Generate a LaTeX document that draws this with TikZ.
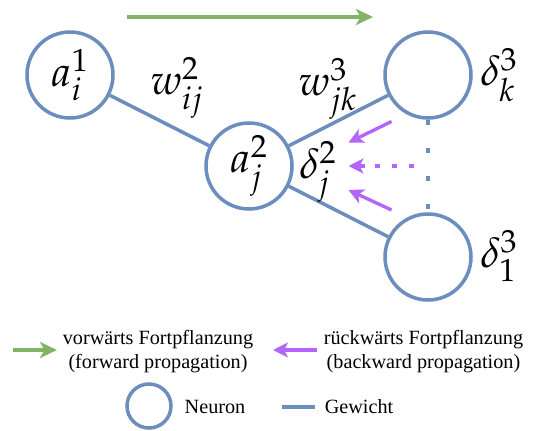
\documentclass[tikz,border=0pt]{standalone}
\usepackage{mathpazo}
\usepackage[no-math]{fontspec}
\setmainfont{Liberation Serif}
\usetikzlibrary{arrows.meta}
\definecolor{nblue}{HTML}{6C8EBF}
\definecolor{fgreen}{HTML}{82B366}
\definecolor{bpurple}{HTML}{B266FF}
\tikzset{
  neuron/.style={circle,draw=nblue,line width=2pt,minimum size=1.72cm,inner sep=0pt},
  wt/.style={draw=nblue,line width=2pt},                          % Gewicht
  sym/.style={font=\fontsize{24}{28}\selectfont,inner sep=0pt},
  fwd/.style={-{Stealth[length=3.4mm,width=3.2mm,inset=0.9mm]},draw=fgreen,line width=2pt},
  bwd/.style={-{Stealth[length=3mm,width=3mm,inset=0.8mm]},draw=bpurple,line width=1.9pt},
  bdots/.style={draw=bpurple,line width=1.9pt,dash pattern=on 2.8pt off 7pt},
  vdots/.style={draw=nblue,line width=2.8pt,dash pattern=on 2.8pt off 13.1pt},
  leg/.style={font=\fontsize{11.5}{13.6}\selectfont,align=center,inner sep=0pt}
}

\begin{document}
\begin{tikzpicture}
  \useasboundingbox (0,0) rectangle (10.72,-8.6);
  % Neuronen
  \node[neuron] (a1) at (1.40,-1.50) {};
  \node[neuron] (a2) at (4.98,-3.32) {};
  \node[neuron] (k3) at (8.56,-1.50) {};
  \node[neuron] (o3) at (8.56,-5.14) {};
  \node[sym] at (a1) {$a_i^1$};
  \node[sym] at (a2) {$a_j^2$};
  \draw[wt] (a1) -- (a2);
  \draw[wt] (a2) -- (k3);
  \draw[wt] (a2) -- (o3);
  \draw[vdots] (k3.south) -- (o3.north);
  \node[sym] (wij) at (3.54,-1.76) {$w_{ij}^2$};
  \node[sym] (wjk) at (6.56,-1.78) {$w_{jk}^3$};
  \node[sym] (dj) at (6.36,-3.44) {$\delta_j^2$};
  \node[sym] (dk) at (9.98,-1.50) {$\delta_k^3$};
  \node[sym] (d1) at (9.98,-5.12) {$\delta_1^3$};
  % Vorwaerts / Rueckwaerts
  \coordinate (fl) at (2.54,-0.34);
  \coordinate (fr) at (7.46,-0.34);
  \draw[fwd] (fl) -- (fr);
  \coordinate (bt1) at (7.83,-2.43);
  \coordinate (bt2) at (6.97,-2.85);
  \coordinate (bm1) at (7.30,-3.32);
  \coordinate (bm2) at (6.97,-3.32);
  \coordinate (bm3) at (8.28,-3.32);
  \coordinate (bb1) at (7.83,-4.20);
  \coordinate (bb2) at (6.97,-3.80);
  \draw[bwd] (bt1) -- (bt2);
  \draw[bwd] (bm1) -- (bm2);
  \draw[bdots] (bm3) -- (7.50,-3.32);
  \draw[bwd] (bb1) -- (bb2);
  % Legende
  \coordinate (lgl) at (0.26,-7.00);
  \coordinate (lgr) at (1.14,-7.00);
  \draw[fwd] (lgl) -- (lgr);
  \node[leg] (fwdtxt) at (3.16,-7.04) {vorwärts Fortpflanzung\\(forward propagation)};
  \coordinate (lpr) at (6.34,-7.00);
  \coordinate (lpl) at (5.46,-7.00);
  \draw[bwd] (lpr) -- (lpl);
  \node[leg] (bwdtxt) at (8.47,-7.04) {rückwärts Fortpflanzung\\(backward propagation)};
  \node[neuron,minimum size=0.88cm] (legneuron) at (2.98,-8.12) {};
  \node[leg] (neurontxt) at (4.30,-8.14) {Neuron};
  \coordinate (lbl) at (5.64,-8.14);
  \coordinate (lbr) at (6.30,-8.14);
  \draw[wt] (lbl) -- (lbr);
  \node[leg] (wttxt) at (7.18,-8.14) {Gewicht};
\end{tikzpicture}
\end{document}
